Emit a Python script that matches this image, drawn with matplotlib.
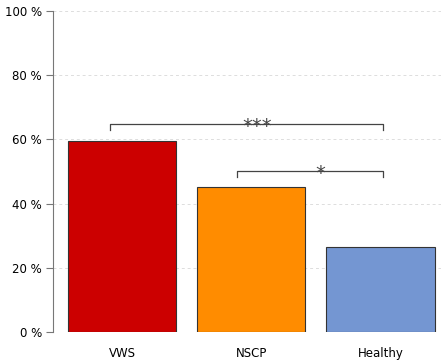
import numpy as np
import matplotlib.pyplot as plt

groups = ['VWS', 'NSCP', 'Healthy']
percent = [59.5, 45.2, 26.5]
colors = ['#CC0000', '#FF8C00', '#7496D2']

# significance brackets: (left x, right x, height in %, label)
brackets = [(-0.09, 2.02, 64.8, '***'), (0.89, 2.02, 50.2, '*')]

fig = plt.figure(figsize=(4.41, 3.63), dpi=100)
ax = fig.add_axes([53 / 441, 31 / 363, 388 / 441, 321 / 363])

x = np.arange(len(groups))
ax.bar(x, percent, width=0.84, color=colors, edgecolor='#333333', linewidth=0.8, zorder=2)

yt = np.arange(0, 101, 20)
for v in yt[1:]:
    ax.axhline(v, color='#dddddd', linestyle=(0, (3, 3)), linewidth=0.7, zorder=0)

for x0, x1, h, lab in brackets:
    ax.plot([x0, x0, x1, x1], [h - 1.8, h, h, h - 1.8], color='#444444', linewidth=0.9, zorder=3)
    ax.text((x0 + x1) / 2 + 0.08, h - 3.8, lab, ha='center', va='bottom', fontsize=14, color='#444444')

ax.set_xlim(-0.535, 2.47)
ax.set_ylim(0, 100)
ax.set_yticks(yt)
ax.set_yticklabels([f'{v} %' for v in yt], fontsize=8.5)
ax.set_xticks(x)
ax.set_xticklabels(groups, fontsize=8.5)
ax.tick_params(axis='x', length=0, pad=11)
ax.tick_params(axis='y', length=5, color='#777777', pad=3)
for s in ['top', 'right', 'bottom']:
    ax.spines[s].set_visible(False)
ax.spines['left'].set_color('#777777')

fig.savefig('out.png', dpi=100)
